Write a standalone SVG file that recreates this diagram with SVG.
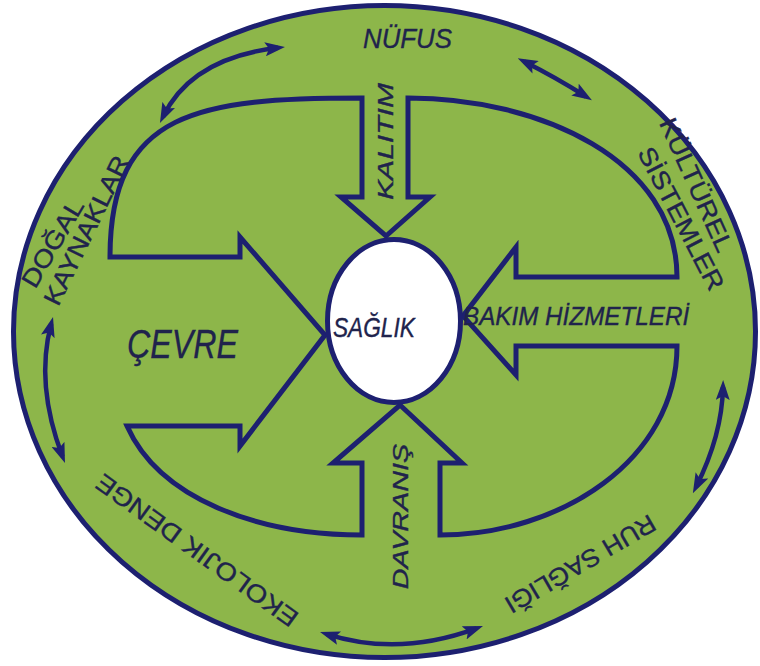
<svg xmlns="http://www.w3.org/2000/svg" width="760" height="666" viewBox="0 0 760 666">
  <defs>
    <marker id="ah" viewBox="0 0 20 14" refX="13" refY="7" markerWidth="20" markerHeight="14" markerUnits="userSpaceOnUse" orient="auto-start-reverse">
      <path d="M0,0 L20,7 L0,14 L4,7 Z" fill="#1d2070"/>
    </marker>
  </defs>
  <style>
    .ln { fill: none; stroke: #1d2070; stroke-width: 5; stroke-linejoin: miter; stroke-miterlimit: 10; }
    .con { fill: none; stroke: #1d2070; stroke-width: 4.5; marker-start: url(#ah); marker-end: url(#ah); }
    .t { font-family: "Liberation Sans", Arial, sans-serif; fill: #20234c; stroke: #20234c; stroke-width: 0.35; }
    .it { font-style: italic; }
  </style>
  <rect width="760" height="666" fill="#ffffff"/>

  <g id="outer-ring">
    <ellipse cx="384.5" cy="331.5" rx="371" ry="326" fill="#8db64a" stroke="#1d2070" stroke-width="5"/>
  </g>

  <g id="inner-arrows">
    <path class="ln" d="M362 98 L362 197 L341 197 L386 236 L430 197 L408 197 L408 98 C540 98 677 160 677 277 L516 277 L516 247 L463 316 L516 375 L516 346 L677 346 C677 460 560 535 440 535 L440 463 L462 463 L400 405 L333 463 L362 463 L362 535 C260 535 160 500 127 426 L240 426 L240 446 L325 335 L240 237 L240 257 L110 257 C110 110 200 98 362 98 Z"/>
  </g>

  <g id="saglik">
    <ellipse cx="394" cy="321" rx="66.5" ry="81.5" fill="#ffffff" stroke="#1d2070" stroke-width="5"/>
    <text class="t it" transform="translate(333,337) scale(0.84,1)" font-size="27">SAĞLIK</text>
  </g>

  <g id="nufus">
    <text class="t it" transform="translate(363,48) scale(0.923,1)" font-size="28">NÜFUS</text>
  </g>
  <g id="kalitim">
    <text class="t it" transform="translate(393,141.5) rotate(-90) scale(1.367,1)" text-anchor="middle" font-size="22">KALITIM</text>
  </g>
  <g id="cevre">
    <text class="t it" transform="translate(127,358) scale(0.805,1)" font-size="40">ÇEVRE</text>
  </g>
  <g id="bakim">
    <text class="t it" transform="translate(463,325) scale(0.932,1)" font-size="26">BAKIM HİZMETLERİ</text>
  </g>
  <g id="davranis">
    <text class="t it" transform="translate(408,516.5) rotate(-90) scale(1.307,1)" text-anchor="middle" font-size="22">DAVRANIŞ</text>
  </g>
  <g id="dogal-kaynaklar">
    <text class="t" transform="translate(60,247.5) rotate(-59.5) scale(1.12,1)" text-anchor="middle" font-size="25">DOĞAL</text>
    <text class="t" transform="translate(94,234) rotate(-63.9) scale(1.1,1)" text-anchor="middle" font-size="25">KAYNAKLAR</text>
  </g>
  <g id="kulturel-sistemler">
    <text class="t" transform="translate(688.5,188.5) rotate(65.7) scale(1.12,1)" text-anchor="middle" font-size="25">KÜLTÜREL</text>
    <text class="t" transform="translate(673.5,222.5) rotate(62.5) scale(1.115,1)" text-anchor="middle" font-size="25">SİSTEMLER</text>
  </g>
  <g id="ruh-sagligi">
    <text class="t" transform="translate(576,556.5) rotate(149.7) scale(1.055,1)" text-anchor="middle" font-size="25">RUH SAĞLIĞI</text>
  </g>
  <g id="ekolojik-denge">
    <text class="t" transform="translate(202,543.5) rotate(215.8) scale(1.11,1)" text-anchor="middle" font-size="25">EKOLOJIK DENGE</text>
  </g>

  <g id="connectors">
    <path class="con" d="M163 116.7 Q191.5 58 278 47.8"/>
    <path class="con" d="M524 61.5 Q555 77 586 96.5"/>
    <path class="con" d="M723 387 Q722 435.5 696 487"/>
    <path class="con" d="M326.7 634.1 Q398.5 657 476.4 628.4"/>
    <path class="con" d="M51.2 323.8 Q35 384 62.5 456.5"/>
  </g>
</svg>
